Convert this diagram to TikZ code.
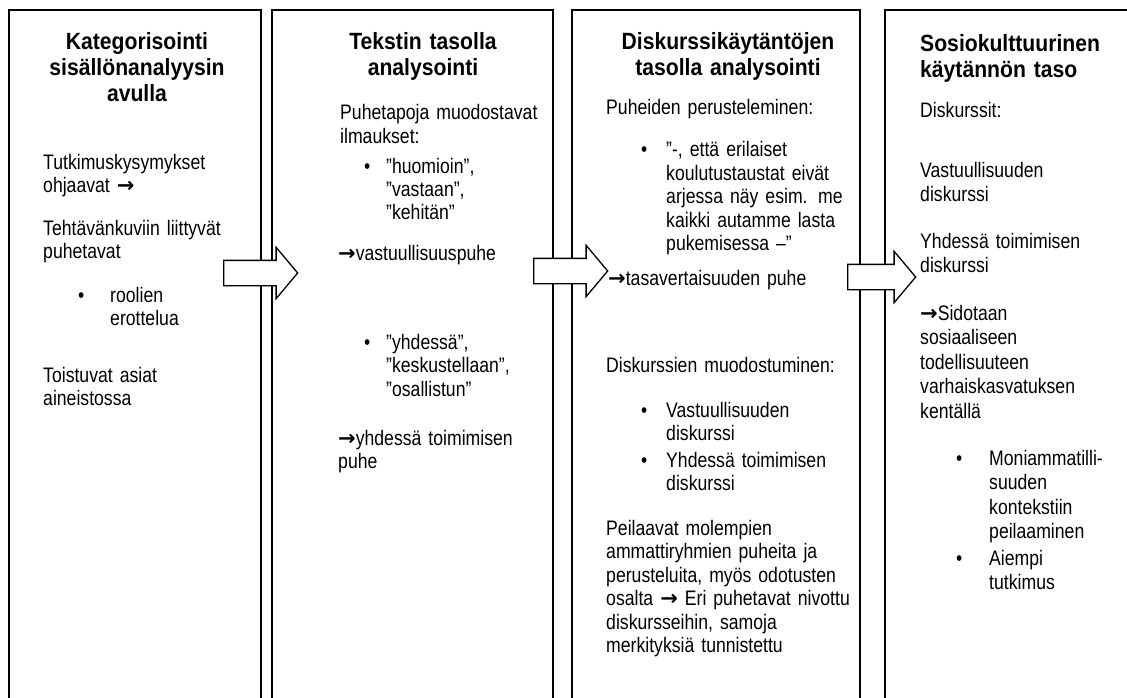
\documentclass[tikz,border=0pt]{standalone}
\usepackage{fontspec}
\setmainfont{Liberation Sans}[FakeStretch=0.84]
\newfontfamily\headfont{Liberation Sans}[FakeStretch=0.9]
\newfontfamily\symfont{DejaVu Sans}
\usetikzlibrary{positioning}
\usetikzlibrary{shapes.arrows}

% arrow sign and bullet with hanging indent
\newcommand{\rarr}{{\symfont\bfseries →}}
\newcommand{\bul}[2]{\hangindent=#1\hangafter=1\makebox[#1][l]{\textbullet}#2\par}

\begin{document}
\begin{tikzpicture}[x=1pt,y=-1pt,
    panel/.style={draw, line width=1.6pt, minimum height=780pt, anchor=north west, inner sep=0pt},
    ttl/.style={font=\headfont\fontsize{23.5}{26}\selectfont\bfseries, text width=250pt, align=center, inner sep=0pt, anchor=base},
    txt/.style={font=\fontsize{21}{23.5}\selectfont, text width=250pt, align=left, inner sep=0pt, anchor=base west},
    blockarrow/.style={single arrow, draw, fill=white, line width=1.3pt, inner sep=0pt,
        text height=12pt, text depth=12pt, minimum height=74pt,
        single arrow head extend=13pt, single arrow tip angle=100, anchor=tail}]
    \useasboundingbox (0,0) rectangle (1127,698);

    % Boxes
    \node[panel, minimum width=252pt] (p1) at (8,9) {};
    \node[panel, minimum width=281pt] (p2) at (271,9) {};
    \node[panel, minimum width=288pt] (p3) at (571,9) {};
    \node[panel, minimum width=300pt] (p4) at (884,9) {};

    % Arrows
    \node[blockarrow] (arr1) at (223,273) {};
    \node[blockarrow] (arr2) at (533,271) {};
    \node[blockarrow, minimum height=68pt] (arr3) at (847,277) {};

    % Titles
    \node[ttl] (t1) at (137,50) {Kategorisointi\\sisällönanalyysin\\avulla};
    \node[ttl] (t2) at (423,50) {Tekstin tasolla\\analysointi};
    \node[ttl] (t3) at (728,50) {Diskurssikäytäntöjen\\tasolla analysointi};
    \node[ttl, anchor=base west, align=left] (t4) at (920,52) {Sosiokulttuurinen\\käytännön taso};

    % Box 1
    \node[txt] (kysymys) at (43,169) {Tutkimuskysymykset\\ohjaavat \rarr};
    \node[txt] (tehtava) at (43,235) {Tehtävänkuviin liittyvät\\puhetavat};
    \node[txt] (roolit) at (78,302) {\bul{32pt}{roolien\newline erottelua}};
    \node[txt] (toisto) at (43,382) {Toistuvat asiat\\aineistossa};

    % Box 2
    \node[txt] (puhetapa) at (340,120) {Puhetapoja muodostavat\\ilmaukset:};
    \node[txt] (ilm1) at (364,173) {\bul{22pt}{”huomioin”,\newline ”vastaan”,\newline ”kehitän”}};
    \node[txt] (vastpuhe) at (338,260) {\rarr vastuullisuuspuhe};
    \node[txt] (ilm2) at (364,349) {\bul{22pt}{”yhdessä”,\newline ”keskustellaan”,\newline ”osallistun”}};
    \node[txt] (yhdpuhe) at (338,445) {\rarr yhdessä toimimisen\\puhe};

    % Box 3
    \node[txt] (perustelu) at (606,115) {Puheiden perusteleminen:};
    \node[txt] (lainaus) at (641,157) {\bul{25pt}{”-, että erilaiset\newline koulutustaustat eivät\newline arjessa näy esim. me\newline kaikki autamme lasta\newline pukemisessa –”}};
    \node[txt] (tasav) at (608,285) {\rarr tasavertaisuuden puhe};
    \node[txt] (muodostus) at (606,372) {Diskurssien muodostuminen:};
    \node[txt] (disk1) at (641,417) {\bul{25pt}{Vastuullisuuden\newline diskurssi}};
    \node[txt] (disk2) at (641,467) {\bul{25pt}{Yhdessä toimimisen\newline diskurssi}};
    \node[txt] (peilaus) at (606,535) {Peilaavat molempien\\ammattiryhmien puheita ja\\perusteluita, myös odotusten\\osalta \rarr{} Eri puhetavat nivottu\\diskursseihin, samoja\\merkityksiä tunnistettu};

    % Box 4
    \node[txt] (diskurssit) at (920,118) {Diskurssit:};
    \node[txt, font=\fontsize{21}{24.5}\selectfont] (vast) at (920,177) {Vastuullisuuden\\diskurssi};
    \node[txt, font=\fontsize{21}{24.5}\selectfont] (yhd) at (920,248) {Yhdessä toimimisen\\diskurssi};
    \node[txt, font=\fontsize{21}{24.5}\selectfont] (sidotaan) at (920,320) {\rarr Sidotaan\\sosiaaliseen\\todellisuuteen\\varhaiskasvatuksen\\kentällä};
    \node[txt, font=\fontsize{21}{24.5}\selectfont] (moniamm) at (956,465) {\bul{33pt}{Moniammatilli-\newline suuden\newline kontekstiin\newline peilaaminen}};
    \node[txt, font=\fontsize{21}{24.5}\selectfont] (aiempi) at (956,565) {\bul{33pt}{Aiempi\newline tutkimus}};
\end{tikzpicture}
\end{document}
